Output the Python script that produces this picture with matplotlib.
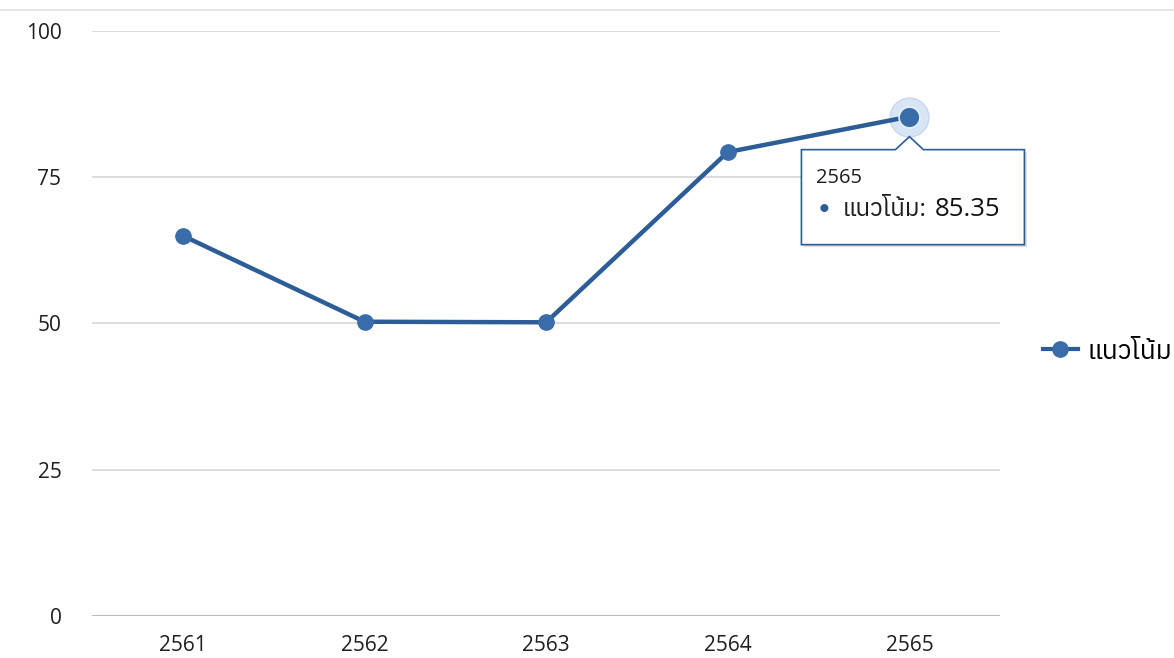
import matplotlib
matplotlib.use('Agg')
import matplotlib.pyplot as plt
from matplotlib import font_manager, transforms
from matplotlib.ft2font import FT2Font
from matplotlib.patches import Polygon
from matplotlib.lines import Line2D
from matplotlib.text import Annotation

years = ['2561', '2562', '2563', '2564', '2565']
trend = [65.0, 50.3, 50.2, 79.3, 85.35]
series_name = 'แนวโน้ม'
yticks = [0, 25, 50, 75, 100]

# find a font that can draw Thai, fall back to the defaults otherwise
thai_fonts = []
for path in font_manager.findSystemFonts():
    try:
        ft = FT2Font(path)
        if ft.get_char_index(0x0E41) and ft.get_char_index(0x0E42):
            thai_fonts.append(font_manager.FontProperties(fname=path).get_name())
    except Exception:
        pass
families = ['Open Sans'] + sorted(set(thai_fonts)) + ['DejaVu Sans']
plt.rcParams['font.family'] = families

line_col = '#2c5d96'
dot_col = '#3a6caa'

fig = plt.figure(figsize=(11.74, 6.58), dpi=100)
ax = fig.add_axes([0.0784, 0.0638, 0.852 - 0.0784, 0.953 - 0.0638])

x = list(range(len(years)))
ax.plot(x, trend, color=line_col, lw=3.2, marker='o', ms=11,
        markerfacecolor=dot_col, markeredgecolor=dot_col, zorder=3)

ax.set_xlim(-0.5, len(years) - 0.5)
ax.set_ylim(0, 100)
ax.set_xticks(x)
ax.set_xticklabels(years)
ax.set_yticks(yticks)
ax.set_yticklabels([str(v) for v in yticks])
ax.tick_params(length=0, labelsize=15, colors='#1e1e1e')
ax.tick_params(axis='y', pad=22)
ax.tick_params(axis='x', pad=14)
for s in ax.spines.values():
    s.set_visible(False)
ax.grid(axis='y', color='#d9d9d9', lw=1.3)
ax.axhline(0, color='#a9b1cc', lw=1.8, zorder=2)
ax.set_axisbelow(True)

# thin gray line across the top
fig.add_artist(Line2D([0, 1], [1 - 10 / 658, 1 - 10 / 658], color='#e2e2e2', lw=1.2))

# hover halo and tooltip on the last point
px, py = x[-1], trend[-1]
ax.plot([px], [py], 'o', ms=28, color='#d8e5f4', markeredgecolor='#c6d8ee', mew=1,
        zorder=2.5)
ax.plot([px], [py], 'o', ms=15, color=dot_col, markeredgecolor='#e8f0fa', mew=1.2, zorder=4)

tr = fig.dpi_scale_trans + transforms.ScaledTranslation(px, py, ax.transData)
box = [(-1.08, -0.33), (-0.14, -0.33), (0.0, -0.20), (0.14, -0.33), (1.15, -0.33),
       (1.15, -1.28), (-1.08, -1.28)]
shadow = Polygon([(a + 0.025, b - 0.025) for a, b in box], closed=True, transform=tr,
                 facecolor='#000000', alpha=0.13, edgecolor='none', zorder=5, clip_on=False)
tip = Polygon(box, closed=True, transform=tr, facecolor='white', edgecolor='#2c5d96',
              lw=1.2, zorder=6, clip_on=False)
fig.add_artist(shadow)
fig.add_artist(tip)
fig.text(-0.93, -0.61, years[-1], transform=tr, fontsize=14.5, va='center', ha='left',
         color='#1e1e1e', zorder=7)
fig.text(-0.85, -0.93, '\u25cf', transform=tr, fontsize=8, va='center', ha='center',
         color=line_col, zorder=7)
lbl = fig.text(-0.67, -0.93, series_name + ':', transform=tr, fontsize=17.5, va='center',
               ha='left', color='#1e1e1e', zorder=7)
val = Annotation(f'{trend[-1]:.2f}', xy=(1, 0.5), xycoords=lbl, xytext=(6, 0),
                 textcoords='offset points', fontsize=18.5, va='center', ha='left',
                 color='#111111', annotation_clip=False)
val.set_zorder(7)
fig.add_artist(val)

leg_handle = Line2D([], [], color=line_col, lw=3.0, marker='o', ms=11,
                    markerfacecolor=dot_col, markeredgecolor=dot_col)
fig.legend([leg_handle], [series_name], loc='center left', bbox_to_anchor=(0.888, 0.465),
           frameon=False, fontsize=19, handlelength=1.35, handletextpad=0.35,
           borderpad=0, borderaxespad=0)

fig.savefig('out.png', dpi=100)
